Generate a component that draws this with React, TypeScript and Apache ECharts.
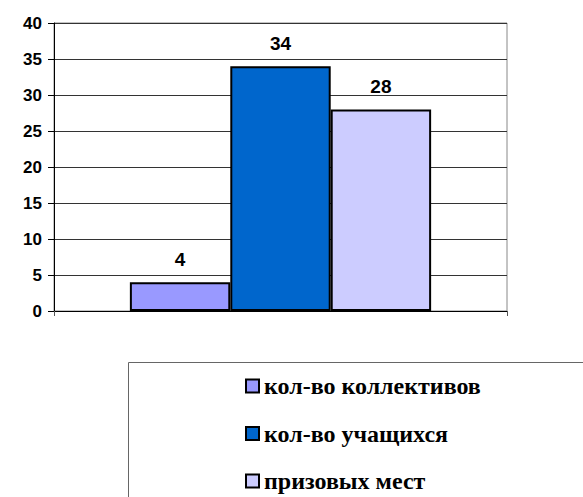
import React, { useEffect, useRef } from "react";
import * as echarts from "echarts";

const categories = [""];
const seriesNames = ["кол-во коллективов", "кол-во учащихся", "призовых мест"];
const seriesValues = [[4], [34], [28]];
const seriesColors = ["#9999FF", "#0066CC", "#CCCCFF"];

const SANS = "Liberation Sans";
const SERIF = "Liberation Serif";

export default function App() {
  const ref = useRef<HTMLDivElement>(null);
  useEffect(() => {
    if (!ref.current) return;
    const chart = echarts.init(ref.current, null, { renderer: "svg" });
    chart.setOption({
      animation: false,
      backgroundColor: "#ffffff",
      grid: {
        left: 54,
        right: 76,
        top: 23,
        bottom: 186,
        show: true,
        borderColor: "#888888",
        borderWidth: 1,
        backgroundColor: "transparent",
      },
      xAxis: {
        type: "category",
        data: categories,
        axisLine: { lineStyle: { color: "#000", width: 1 } },
        axisTick: { show: true, length: 5, lineStyle: { color: "#555" } },
        axisLabel: { show: false },
      },
      yAxis: {
        type: "value",
        min: 0,
        max: 40,
        interval: 5,
        axisLine: { show: true, lineStyle: { color: "#000", width: 1 } },
        axisTick: { show: true, length: 6, lineStyle: { color: "#000" } },
        axisLabel: {
          color: "#000",
          fontFamily: SANS,
          fontWeight: "bold",
          fontSize: 17,
          margin: 12,
        },
        splitLine: { show: true, lineStyle: { color: "#333", width: 1 } },
      },
      legend: {
        orient: "vertical",
        left: 245,
        top: 374,
        padding: 0,
        itemWidth: 13,
        itemHeight: 13,
        itemGap: 23.5,
        icon: "rect",
        itemStyle: { borderColor: "#000", borderWidth: 2 },
        textStyle: {
          color: "#000",
          fontFamily: SERIF,
          fontWeight: "bold",
          fontSize: 24,
          lineHeight: 24,
        },
        data: seriesNames,
      },
      graphic: [
        {
          type: "rect",
          left: 126,
          top: 360,
          shape: { width: 600, height: 300 },
          style: { fill: "none", stroke: "#666", lineWidth: 1 },
          silent: true,
        },
      ],
      series: seriesNames.map((name, i) => ({
        name,
        type: "bar",
        data: seriesValues[i],
        barGap: "0%",
        barCategoryGap: "33.5%",
        itemStyle: { color: seriesColors[i], borderColor: "#000", borderWidth: 2 },
        label: {
          show: true,
          position: "top",
          distance: 13,
          color: "#000",
          fontFamily: SANS,
          fontWeight: "bold",
          fontSize: 19,
        },
      })),
    });
    return () => chart.dispose();
  }, []);
  return (
    <div
      ref={ref}
      style={{ position: "fixed", left: 0, top: 0, width: 583, height: 497 }}
    />
  );
}
